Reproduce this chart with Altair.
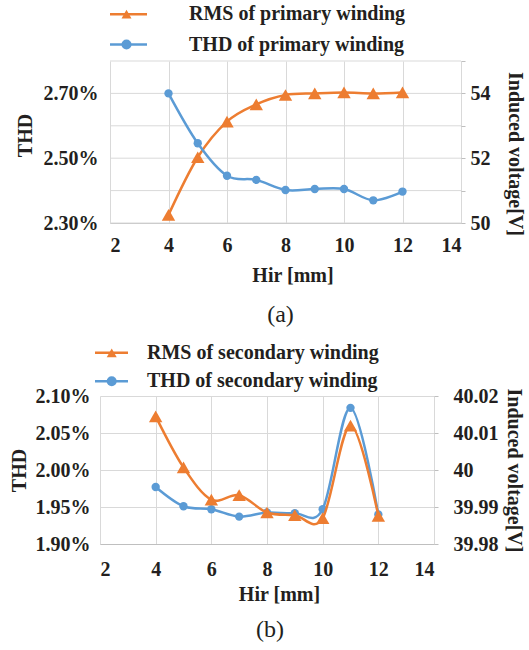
import altair as alt
import pandas as pd

# ---------------- data ----------------
hir = [4, 5, 6, 7, 8, 9, 10, 11, 12]

thd_primary = [2.700, 2.546, 2.446, 2.433, 2.402, 2.405, 2.405, 2.370, 2.397]
rms_primary = [50.25, 52.03, 53.13, 53.66, 53.95, 54.00, 54.03, 54.00, 54.03]

thd_secondary = [1.977, 1.951, 1.947, 1.937, 1.9425, 1.9415, 1.947, 2.084, 1.940]
rms_secondary = [40.0145, 40.0007, 39.992, 39.9932, 39.9885, 39.9878, 39.987, 40.012, 39.9876]

x_ticks = [2, 4, 6, 8, 10, 12, 14]
thd_a_grid = [2.3, 2.4, 2.5, 2.6, 2.7, 2.8]
thd_a_labels = [2.3, 2.5, 2.7]
rms_a_ticks = [50, 51, 52, 53, 54, 55]
thd_b_ticks = [1.90, 1.95, 2.00, 2.05, 2.10]
rms_b_ticks = [39.98, 39.99, 40.00, 40.01, 40.02]

names_a = ["RMS of primary winding", "THD of primary winding"]
names_b = ["RMS of secondary winding", "THD of secondary winding"]

# ---------------- styles ----------------
ORANGE = "#ED7D31"
BLUE = "#5B9BD5"
GRID = "#d9d9d9"
AXGRAY = "#bfbfbf"
TEXT = "#231f20"
SERIF = "Liberation Serif"


def legend_layer(names, rows, x0, x1, xm, xt):
    ldf = pd.DataFrame({"name": names})
    ysc = alt.Y("name:N", scale=alt.Scale(type="point", domain=names, range=rows, padding=0), axis=None)
    col = alt.Color("name:N", scale=alt.Scale(domain=names, range=[ORANGE, BLUE]), legend=None)
    shp = alt.Shape("name:N", scale=alt.Scale(domain=names, range=["triangle-up", "circle"]), legend=None)
    base = alt.Chart(ldf)
    rule = base.mark_rule(strokeWidth=2.5).encode(x=alt.value(x0), x2=alt.value(x1), y=ysc, color=col)
    pts = base.mark_point(filled=True, opacity=1, size=100).encode(x=alt.value(xm), y=ysc, color=col, shape=shp)
    txt = base.mark_text(align="left", baseline="middle", font=SERIF, fontSize=20,
                         fontWeight="bold", color=TEXT).encode(x=alt.value(xt), y=ysc, text="name:N")
    return alt.layer(rule, pts, txt)


def panel(thd, rms, cfg):
    df = pd.DataFrame({"hir": hir, "thd": thd, "rms": rms})
    xsc = dict(domain=[2, 14], nice=False, zero=False)
    if cfg.get("xrange"):
        xsc["range"] = cfg["xrange"]
    xenc = alt.X("hir:Q", scale=alt.Scale(**xsc),
                 axis=alt.Axis(values=x_ticks, title="Hir [mm]", grid=True, gridColor=GRID,
                               domain=True, domainColor=AXGRAY, ticks=False, tickSize=0,
                               labelPadding=cfg["xlabpad"], titlePadding=cfg["xtitlepad"],
                               titleX=cfg["xtitlex"], format="d"))

    left_axis = dict(orient="left", values=cfg["thd_labels"],
                     labelExpr="format(datum.value, '.2f') + '%'",
                     grid=cfg["left_grid"], gridColor=GRID, domain=False, ticks=False, tickSize=0,
                     labelPadding=cfg["llabpad"], title="THD", titlePadding=cfg["ltitlepad"])
    if cfg.get("ltitley") is not None:
        left_axis["titleY"] = cfg["ltitley"]
    yth = alt.Y("thd:Q", scale=alt.Scale(domain=cfg["thd_dom"], nice=False, zero=False),
                axis=alt.Axis(**left_axis))

    right_axis = dict(orient="right", values=cfg["rms_ticks"], grid=False, domain=False,
                      ticks=True, tickSize=4, tickColor=AXGRAY, labelPadding=cfg["rlabpad"],
                      title="Induced voltage[V]", titlePadding=cfg["rtitlepad"])
    if cfg.get("rlabexpr"):
        right_axis["labelExpr"] = cfg["rlabexpr"]
    if cfg.get("rformat"):
        right_axis["format"] = cfg["rformat"]
    if cfg.get("rtitley") is not None:
        right_axis["titleY"] = cfg["rtitley"]
    yrm = alt.Y("rms:Q", scale=alt.Scale(domain=cfg["rms_dom"], nice=False, zero=False),
                axis=alt.Axis(**right_axis))

    base = alt.Chart(df)
    thd_layer = alt.layer(
        base.mark_line(color=BLUE, strokeWidth=2.5, interpolate="cardinal").encode(x=xenc, y=yth),
        base.mark_circle(color=BLUE, size=70, opacity=1).encode(x=xenc, y=yth),
    )
    rms_layer = alt.layer(
        base.mark_line(color=ORANGE, strokeWidth=2.5, interpolate="cardinal").encode(x=xenc, y=yrm),
        base.mark_point(color=ORANGE, shape="triangle-up", filled=True, size=180, opacity=1).encode(x=xenc, y=yrm),
    )
    leg = legend_layer(*cfg["legend"])

    layers = []
    if cfg.get("grid_vals"):
        gdf = pd.DataFrame({"g": cfg["grid_vals"]})
        layers.append(
            alt.Chart(gdf).mark_rule(color=GRID, strokeWidth=1).encode(
                x=alt.X(datum=2), x2=alt.X2(datum=14),
                y=alt.Y("g:Q", scale=alt.Scale(domain=cfg["thd_dom"], nice=False, zero=False), axis=None))
        )
    if cfg["blue_on_top"]:
        layers += [rms_layer, thd_layer]
    else:
        layers += [thd_layer, rms_layer]
    layers.append(leg)

    return alt.layer(*layers).resolve_scale(y="independent").properties(
        width=cfg["w"], height=cfg["h"],
        title=alt.TitleParams(cfg["caption"], orient="bottom", anchor="middle", font=SERIF,
                              fontSize=24, fontWeight="normal", color=TEXT,
                              offset=cfg["capoffset"], dx=cfg["capdx"]))


cfg_a = dict(
    xrange=[10, 361], w=361, h=162,
    xlabpad=12, xtitlepad=10, xtitlex=192.5,
    thd_labels=thd_a_labels, left_grid=False, grid_vals=thd_a_grid,
    llabpad=2, ltitlepad=8, ltitley=74,
    thd_dom=[2.3, 2.8],
    rms_ticks=rms_a_ticks, rlabexpr="datum.value % 2 == 0 ? format(datum.value, 'd') : ''",
    rlabpad=5, rtitlepad=14, rtitley=92.5,
    rms_dom=[50, 55],
    legend=(names_a, [-46.8, -16.5], 10, 47, 26.5, 89),
    blue_on_top=True, caption="(a)", capoffset=18, capdx=0,
)

cfg_b = dict(
    xrange=None, w=334, h=148,
    xlabpad=15.5, xtitlepad=5, xtitlex=179,
    thd_labels=thd_b_ticks, left_grid=True, grid_vals=None,
    llabpad=10, ltitlepad=6, ltitley=None,
    thd_dom=[1.90, 2.10],
    rms_ticks=rms_b_ticks, rformat="~g",
    rlabpad=15, rtitlepad=5, rtitley=None,
    rms_dom=[39.98, 40.02],
    legend=(names_b, [-43.2, -14.8], -5, 28, 11.7, 47),
    blue_on_top=False, caption="(b)", capoffset=13, capdx=3,
)

chart = alt.vconcat(panel(thd_primary, rms_primary, cfg_a),
                    panel(thd_secondary, rms_secondary, cfg_b),
                    spacing=15).resolve_scale(color="independent", shape="independent").properties(
    padding={"left": 9, "top": 4, "right": 2, "bottom": 2}
).configure_view(stroke=None).configure_axis(
    labelFont=SERIF, labelFontSize=20, labelFontWeight="bold", labelColor=TEXT,
    titleFont=SERIF, titleFontSize=20, titleFontWeight="bold", titleColor=TEXT,
)

chart.save("out.html", embed_options={"renderer": "svg", "actions": False})
